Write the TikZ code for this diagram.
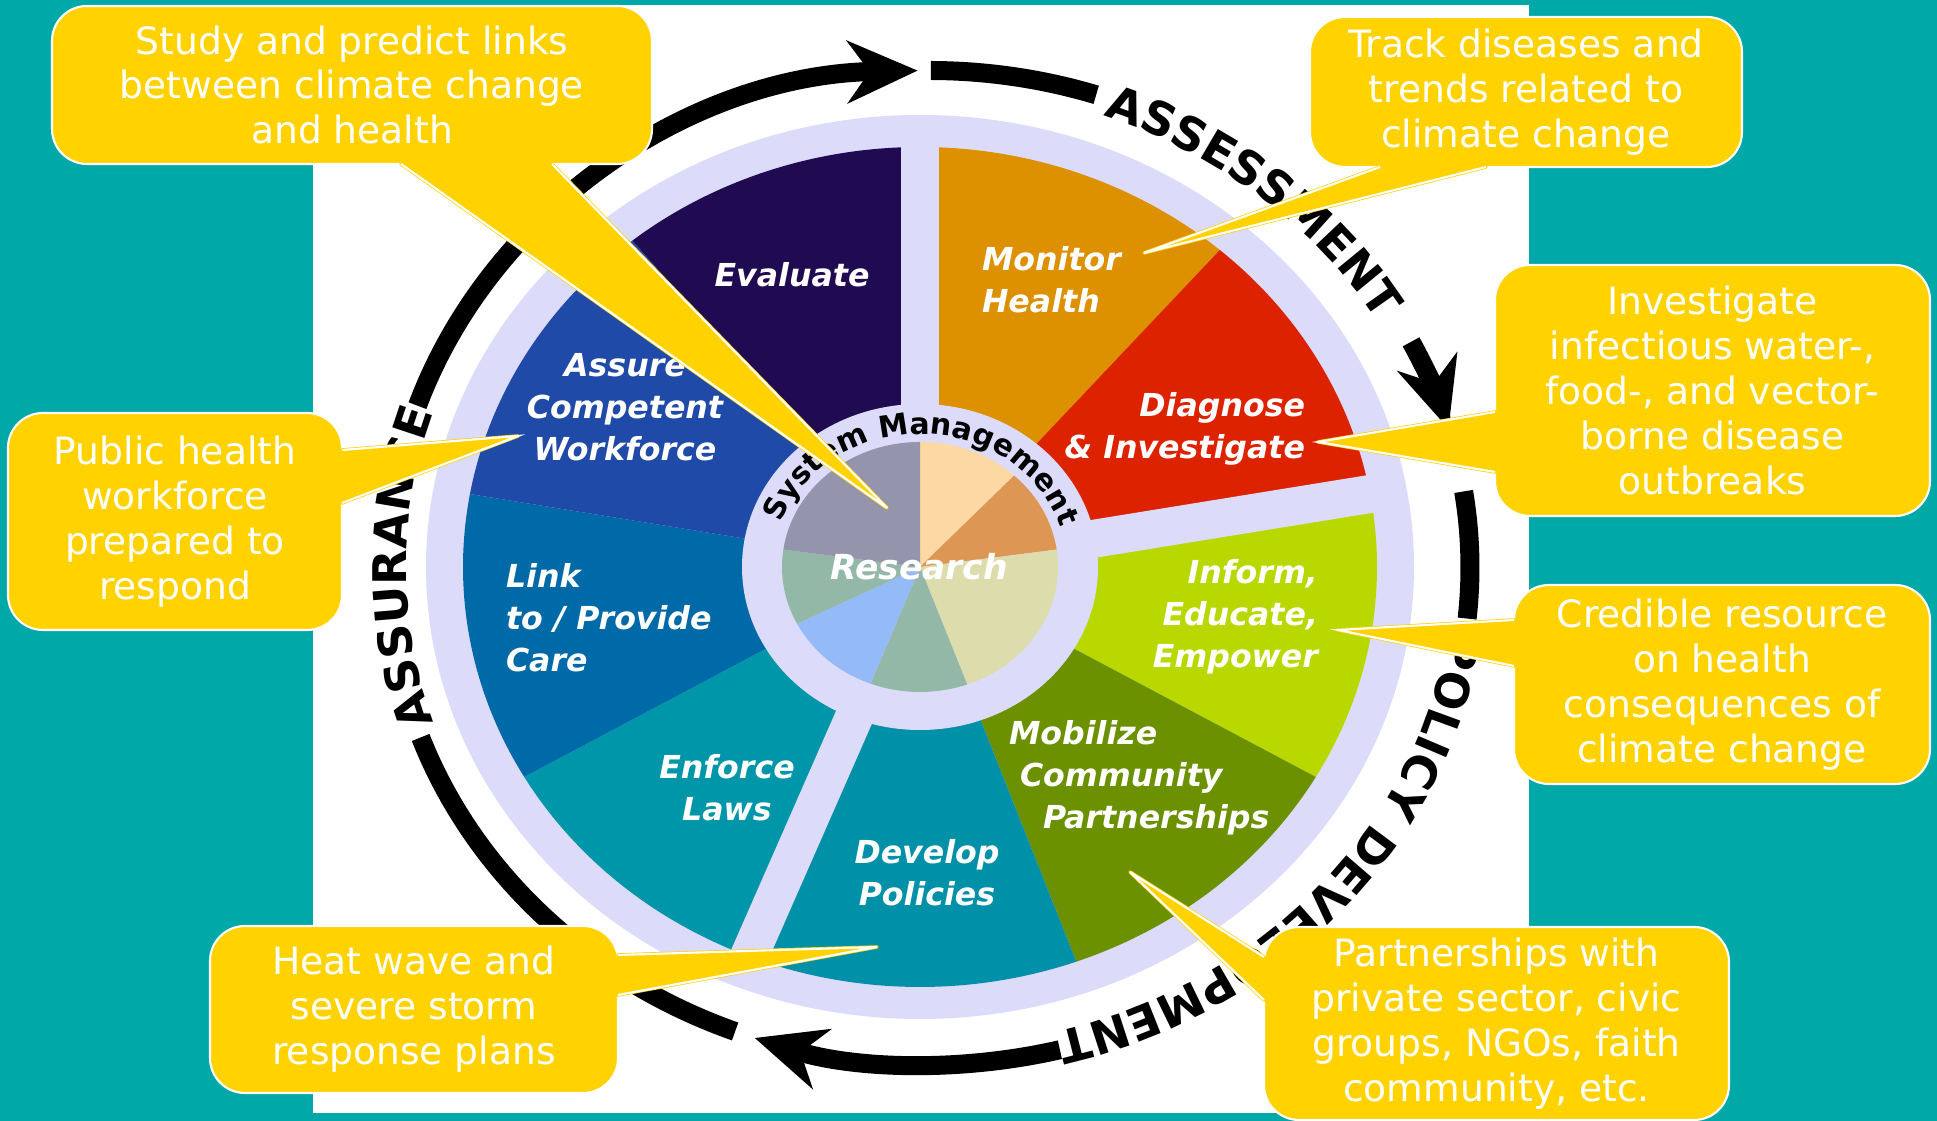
\documentclass[tikz,border=0pt]{standalone}
\usepackage{fontspec}
\setmainfont{DejaVu Sans}
\usetikzlibrary{arrows.meta,decorations.text}

\definecolor{bgteal}{RGB}{0,168,168}
\definecolor{lav}{RGB}{220,220,250}
\definecolor{callfill}{RGB}{255,210,0}
\definecolor{cMonitor}{RGB}{221,144,0}
\definecolor{cDiagnose}{RGB}{221,34,0}
\definecolor{cInform}{RGB}{184,216,0}
\definecolor{cMobilize}{RGB}{107,144,0}
\definecolor{cDevelop}{RGB}{0,144,168}
\definecolor{cEnforce}{RGB}{0,150,170}
\definecolor{cLink}{RGB}{0,106,168}
\definecolor{cAssure}{RGB}{32,74,168}
\definecolor{cEvaluate}{RGB}{32,10,82}
\definecolor{pPeach}{RGB}{252,217,162}
\definecolor{pTan}{RGB}{222,150,85}
\definecolor{pKhaki}{RGB}{221,220,172}
\definecolor{pSage}{RGB}{148,184,168}
\definecolor{pBlue}{RGB}{148,186,248}
\definecolor{pGray}{RGB}{148,148,172}

\newcommand{\ringfont}{\fontsize{13.2}{15}\selectfont\bfseries}
\newcommand{\smfont}{\fontsize{8.5}{10}\selectfont\bfseries}
\newcommand{\wheelfont}{\fontsize{9}{12}\selectfont\bfseries\itshape}
\newcommand{\callfont}{\fontsize{10.7}{12.8}\selectfont}

\tikzset{
  callout/.style={fill=callfill, draw=white, line width=0.6pt, rounded corners=0.35cm,
    text=white, font=\callfont, align=center, inner sep=0pt, outer sep=0pt},
  pointfill/.style={fill=callfill, draw=callfill, line width=1pt, line join=round},
  pointedge/.style={draw=white, line width=0.6pt},
  ringarc/.style={line width=0.19cm},
  ringtip/.style={-{Stealth[length=0.7cm,width=0.62cm,inset=0.22cm]}},
  spoke/.style={draw=lav, line width=0.38cm},
  wlabel/.style={font=\wheelfont, text=white, inner sep=0pt, outer sep=0pt}
}

% callout pointer from box to tip
\newcommand{\pointer}[3]{%
  \filldraw[pointfill] #1 -- #3 -- #2 -- cycle;
  \draw[pointedge] #1 -- #3 -- #2;}

\begin{document}
\begin{tikzpicture}
\useasboundingbox (0,0) rectangle (19.37,11.21);
\fill[bgteal] (0,0) rectangle (19.37,11.21);
\fill[white] (3.13,0.08) rectangle (15.29,11.16);

\coordinate (c) at (9.20,5.54);
\coordinate (rc) at (9.29,5.535);

% wheel
\fill[lav] (c) ellipse[x radius=4.94, y radius=4.52];
\foreach \a/\b/\col in {90/49/cMonitor, 49/10/cDiagnose, 10/-30/cInform, -30/-70/cMobilize,
    -70/-112/cDevelop, -112/-150/cEnforce, -150/-190/cLink, 170/129/cAssure, 129/90/cEvaluate}
  \fill[\col] (c) -- ([shift={(\a:4.57 and 4.20)}]c) arc[start angle=\a, end angle=\b, x radius=4.57, y radius=4.20] -- cycle;
\foreach \a in {90,10,-112}
  \draw[spoke] (c) -- ([shift={(\a:4.75 and 4.37)}]c);
\fill[lav] (c) ellipse[x radius=1.78, y radius=1.63];
\foreach \a/\b/\col in {90/47/pPeach, 47/8/pTan, 8/-70/pKhaki, -70/-111/pSage,
    -111/-153/pBlue, -153/-188/pSage, 172/90/pGray}
  \fill[\col] (c) -- ([shift={(\a:1.38 and 1.25)}]c) arc[start angle=\a, end angle=\b, x radius=1.38, y radius=1.25] -- cycle;

% outer ring with arrows
\draw[ringarc] ([shift={(249:5.41 and 4.97)}]rc) arc[start angle=249, end angle=200, x radius=5.41, y radius=4.97];
\draw[ringarc,ringtip] ([shift={(161:5.41 and 4.97)}]rc) arc[start angle=161, end angle=91.2, x radius=5.41, y radius=4.97];
\draw[ringarc] ([shift={(89.8:5.41 and 4.97)}]rc) arc[start angle=89.8, end angle=72, x radius=5.41, y radius=4.97];
\draw[ringarc,ringtip] ([shift={(27:5.41 and 4.97)}]rc) arc[start angle=27, end angle=16.2, x radius=5.41, y radius=4.97];
\draw[ringarc] ([shift={(8.8:5.41 and 4.97)}]rc) arc[start angle=8.8, end angle=-5.9, x radius=5.41, y radius=4.97];
\draw[ringarc,ringtip] ([shift={(-76:5.41 and 4.97)}]rc) arc[start angle=-76, end angle=-108.8, x radius=5.41, y radius=4.97];

\path[decorate, decoration={text along path, text align=center, text={|\ringfont|ASSURANCE}}]
  ([shift={(220:5.23 and 4.79)}]rc) arc[start angle=220, end angle=140, x radius=5.23, y radius=4.79];
\path[decorate, decoration={text along path, text align=center, text={|\ringfont|ASSESSMENT}}]
  ([shift={(90:5.23 and 4.79)}]rc) arc[start angle=90, end angle=10, x radius=5.23, y radius=4.79];
\path[decorate, decoration={text along path, text align=center, text={|\ringfont|POLICY DEVELOPMENT}}]
  ([shift={(3.5:5.23 and 4.79)}]rc) arc[start angle=3.5, end angle=-86.5, x radius=5.23, y radius=4.79];
\path[decorate, decoration={text along path, text align=center, text={|\smfont|System Management}}]
  ([shift={(179:1.47 and 1.33)}]c) arc[start angle=179, end angle=-1, x radius=1.47, y radius=1.33];

% wedge labels
\node[wlabel] (evaluate) at (7.92,8.46) {Evaluate};
\node[wlabel, anchor=west, align=left] (monitor) at (9.82,8.41) {Monitor\\Health};
\node[wlabel, anchor=east, align=right] (diagnose) at (13.05,6.92) {Diagnose\\\& Investigate};
\node[wlabel, anchor=east, align=right] (inform) at (13.18,5.04) {Inform,\\Educate,\\Empower};
\node[wlabel, anchor=west, align=left] (mobilize) at (10.09,3.43)
  {Mobilize\\\hspace*{0.11cm}Community\\\hspace*{0.34cm}Partnerships};
\node[wlabel, align=center] (develop) at (9.27,2.48) {Develop\\Policies};
\node[wlabel, align=center] (enforce) at (7.27,3.33) {Enforce\\Laws};
\node[wlabel, anchor=west, align=left] (link) at (5.06,5.03) {Link\\to / Provide\\Care};
\node[wlabel, align=center] (assure) at (6.25,7.14) {Assure\\Competent\\Workforce};
\node[wlabel, font=\fontsize{9.8}{12}\selectfont\bfseries\itshape] (research) at (9.19,5.54) {Research};

% callouts
\node[callout, minimum width=6.0cm, minimum height=1.58cm] (study) at (3.52,10.36)
  {Study and predict links\\between climate change\\and health};
\coordinate (studytip) at (8.87,6.13);
\pointer{([xshift=3.49cm]study.south west)}{([xshift=5.00cm]study.south west)}{(studytip)}

\node[callout, minimum width=4.32cm, minimum height=1.50cm] (track) at (15.26,10.29)
  {Track diseases and\\trends related to\\climate change};
\coordinate (tracktip) at (11.44,8.68);
\pointer{([xshift=0.70cm]track.south west)}{([xshift=1.76cm]track.south west)}{(tracktip)}

\node[callout, minimum width=4.35cm, minimum height=2.51cm] (investigate) at (17.125,7.305)
  {Investigate\\infectious water-,\\food-, and vector-\\borne disease\\outbreaks};
\coordinate (investtip) at (13.18,6.79);
\pointer{([yshift=1.04cm]investigate.south west)}{([yshift=0.44cm]investigate.south west)}{(investtip)}

\node[callout, minimum width=4.16cm, minimum height=1.99cm] (credible) at (17.22,4.365)
  {Credible resource\\on health\\consequences of\\climate change};
\coordinate (credibletip) at (13.38,4.91);
\pointer{([yshift=1.64cm]credible.south west)}{([yshift=1.18cm]credible.south west)}{(credibletip)}

\node[callout, minimum width=3.34cm, minimum height=2.17cm] (workforce) at (1.75,5.995)
  {Public health\\workforce\\prepared to\\respond};
\coordinate (workforcetip) at (5.18,6.85);
\pointer{([yshift=1.80cm]workforce.south east)}{([yshift=1.27cm]workforce.south east)}{(workforcetip)}

\node[callout, minimum width=4.08cm, minimum height=1.67cm] (heatwave) at (4.14,1.115)
  {Heat wave and\\severe storm\\response plans};
\coordinate (heattip) at (8.77,1.74);
\pointer{([yshift=1.38cm]heatwave.south east)}{([yshift=0.98cm]heatwave.south east)}{(heattip)}

\node[callout, minimum width=4.65cm, minimum height=1.93cm] (partners) at (14.965,0.975)
  {Partnerships with\\private sector, civic\\groups, NGOs, faith\\community, etc.};
\coordinate (partnertip) at (11.30,2.49);
\pointer{([yshift=1.63cm]partners.south west)}{([yshift=1.20cm]partners.south west)}{(partnertip)}
\end{tikzpicture}
\end{document}
